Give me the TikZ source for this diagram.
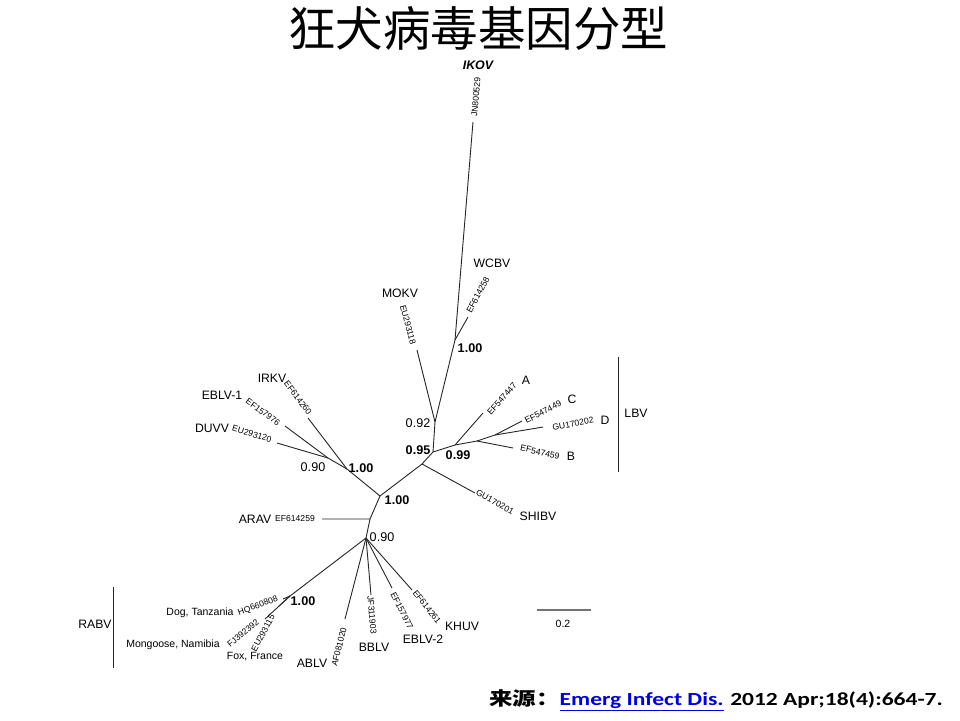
\documentclass[tikz,border=0pt]{standalone}
\usepackage{fontspec}
\setmainfont{Liberation Sans}
\newfontfamily\cjk{Noto Sans CJK SC}
\newfontfamily\calib{Carlito}
\definecolor{linkblue}{RGB}{0,0,230}
\begin{document}
\begin{tikzpicture}[x=1pt,y=-1pt,
  br/.style={draw=black!85,line width=0.9pt},
  acc/.style={inner sep=0pt,font=\fontsize{8.6}{10}\selectfont},
  nm/.style={inner sep=0pt,font=\fontsize{12.2}{14}\selectfont},
  host/.style={inner sep=0pt,font=\fontsize{10.5}{12}\selectfont},
  boot/.style={inner sep=0pt,font=\fontsize{12.6}{14}\selectfont},
  bootb/.style={inner sep=0pt,font=\bfseries\fontsize{12.6}{14}\selectfont},
  barline/.style={draw=black!85,line width=1pt}]
\useasboundingbox (0,0) rectangle (960,720);
\fill[white] (0,0) rectangle (960,720);
% title
\node[inner sep=0pt,font=\cjk\fontsize{47.5}{52}\selectfont] (title) at (478,28) {狂犬病毒基因分型};
% internal nodes and tips
\coordinate (c100) at (380,496);
\coordinate (nJ) at (422,464);
\coordinate (n095) at (433,452);
\coordinate (n092) at (435,422);
\coordinate (w100) at (455,340);
\coordinate (ikov) at (473,122);
\coordinate (wcbv) at (468,317);
\coordinate (mokv) at (417,350);
\coordinate (n099) at (455,445);
\coordinate (tA) at (483,413);
\coordinate (nBCD) at (477,441);
\coordinate (tB) at (513,448);
\coordinate (nCD) at (495,435);
\coordinate (tC) at (522,421);
\coordinate (tD) at (543,427);
\coordinate (shibv) at (475,493);
\coordinate (l100) at (347,469);
\coordinate (irkv) at (308,418);
\coordinate (l090) at (328,458);
\coordinate (eblv1) at (285,426);
\coordinate (duvv) at (277,443);
\coordinate (nA) at (370,519);
\coordinate (arav) at (322,519);
\coordinate (n090) at (366,538);
\coordinate (nR) at (290,596);
\coordinate (dog) at (283,599);
\coordinate (mong) at (265,619);
\coordinate (fox) at (279,606);
\coordinate (ablv) at (345,619);
\coordinate (bblv) at (371,595);
\coordinate (eblv2) at (392,588);
\coordinate (khuv) at (412,590);
% branches
\draw[br] (c100) -- (nJ) -- (n095) -- (n092) -- (w100) -- (ikov);
\draw[br] (w100) -- (wcbv);
\draw[br] (n092) -- (mokv);
\draw[br] (n095) -- (n099) -- (tA);
\draw[br] (n099) -- (nBCD) -- (tB);
\draw[br] (nBCD) -- (nCD) -- (tC);
\draw[br] (nCD) -- (tD);
\draw[br] (nJ) -- (shibv);
\draw[br] (c100) -- (l100) -- (irkv);
\draw[br] (l100) -- (l090) -- (eblv1);
\draw[br] (l090) -- (duvv);
\draw[br] (c100) -- (nA) -- (arav);
\draw[br] (nA) -- (n090) -- (nR) -- (dog);
\draw[br] (nR) -- (mong);
\draw[br] (nR) -- (fox);
\draw[br] (n090) -- (ablv);
\draw[br] (n090) -- (bblv);
\draw[br] (n090) -- (eblv2);
\draw[br] (n090) -- (khuv);
% top labels
\node[inner sep=0pt,font=\bfseries\itshape\fontsize{12.4}{14}\selectfont] (ikovl) at (478,65) {IKOV};
\node[acc,rotate=85] (ikova) at (476,97) {JN800529};
\node[nm] (wcbvl) at (492,263) {WCBV};
\node[acc,rotate=62] (wcbva) at (478,295) {EF614258};
\node[nm] (mokvl) at (400,293) {MOKV};
\node[acc,rotate=-75] (mokva) at (408,325) {EU293118};
\node[bootb] (b1) at (470,348) {1.00};
\node[boot] (b2) at (418,423) {0.92};
\node[bootb] (b3) at (418,450) {0.95};
\node[bootb] (b4) at (458,455) {0.99};
% LBV
\node[acc,rotate=49] (aa) at (502,399) {EF547447};
\node[nm] (al) at (526,380) {A};
\node[acc,rotate=27] (ca) at (543,412) {EF547449};
\node[nm] (cl) at (572,399) {C};
\node[acc,rotate=11] (da) at (573,424) {GU170202};
\node[nm] (dl) at (605,420) {D};
\node[acc,rotate=-12] (ba) at (540,452) {EF547459};
\node[nm] (bl) at (571,456) {B};
\coordinate (lbvt) at (618,357);
\coordinate (lbvb) at (618,472);
\draw[barline] (lbvt) -- (lbvb);
\node[nm] (lbv) at (636,413) {LBV};
\node[acc,rotate=-29] (sa) at (495,502) {GU170201};
\node[nm] (sl) at (538,516) {SHIBV};
% left cluster
\node[nm] (irkvl) at (272,378) {IRKV};
\node[acc,rotate=-53] (irkva) at (298,398) {EF614260};
\node[nm] (eblv1l) at (222,395) {EBLV-1};
\node[acc,rotate=-36] (eblv1a) at (263,412) {EF157976};
\node[nm] (duvvl) at (212,428) {DUVV};
\node[acc,rotate=-17] (duvva) at (252,434) {EU293120};
\node[boot] (b5) at (313,467) {0.90};
\node[bootb] (b6) at (361,468) {1.00};
\node[bootb] (b7) at (397,500) {1.00};
\node[nm] (aravl) at (255,519) {ARAV};
\node[acc] (arava) at (295,519) {EF614259};
\node[boot] (b8) at (382,537) {0.90};
% bottom
\node[acc,rotate=76] (ablva) at (339,647) {AF081020};
\node[nm] (ablvl) at (312,663) {ABLV};
\node[acc,rotate=-85] (bblva) at (372,615) {JF311903};
\node[nm] (bblvl) at (374,647) {BBLV};
\node[acc,rotate=-63] (eblv2a) at (402,611) {EF157977};
\node[nm] (eblv2l) at (423,639) {EBLV-2};
\node[acc,rotate=-52] (khuva) at (427,607) {EF614261};
\node[nm] (khuvl) at (462,626) {KHUV};
\node[bootb] (b9) at (303,601) {1.00};
\node[acc,rotate=20] (doga) at (258,606) {HQ660808};
\node[host] (dogl) at (200,613) {Dog, Tanzania};
\node[acc,rotate=40] (monga) at (243,633) {FJ392392};
\node[host] (mongl) at (173,645) {Mongoose, Namibia};
\node[acc,rotate=62] (foxa) at (263,633) {EU293115};
\node[host] (foxl) at (255,657) {Fox, France};
\coordinate (rabt) at (113,587);
\coordinate (rabb) at (113,668);
\draw[barline] (rabt) -- (rabb);
\node[nm] (rabv) at (95,624) {RABV};
% scale bar
\coordinate (sc1) at (537,610);
\coordinate (sc2) at (591,610);
\draw[draw=black!55,line width=1.2pt] (sc1) -- (sc2);
\node[inner sep=0pt,font=\fontsize{10.5}{12}\selectfont] (scl) at (563,624) {0.2};
% source
\node[inner sep=0pt,anchor=west,font=\bfseries\fontsize{18.5}{20}\selectfont] (src) at (489,700)
  {\scalebox{1.27}[1]{{\cjk\bfseries 来源：}{\calib\bfseries\color{linkblue}\underline{Emerg Infect Dis.}} {\calib\bfseries 2012 Apr;18(4):664-7.}}};
\end{tikzpicture}
\end{document}
